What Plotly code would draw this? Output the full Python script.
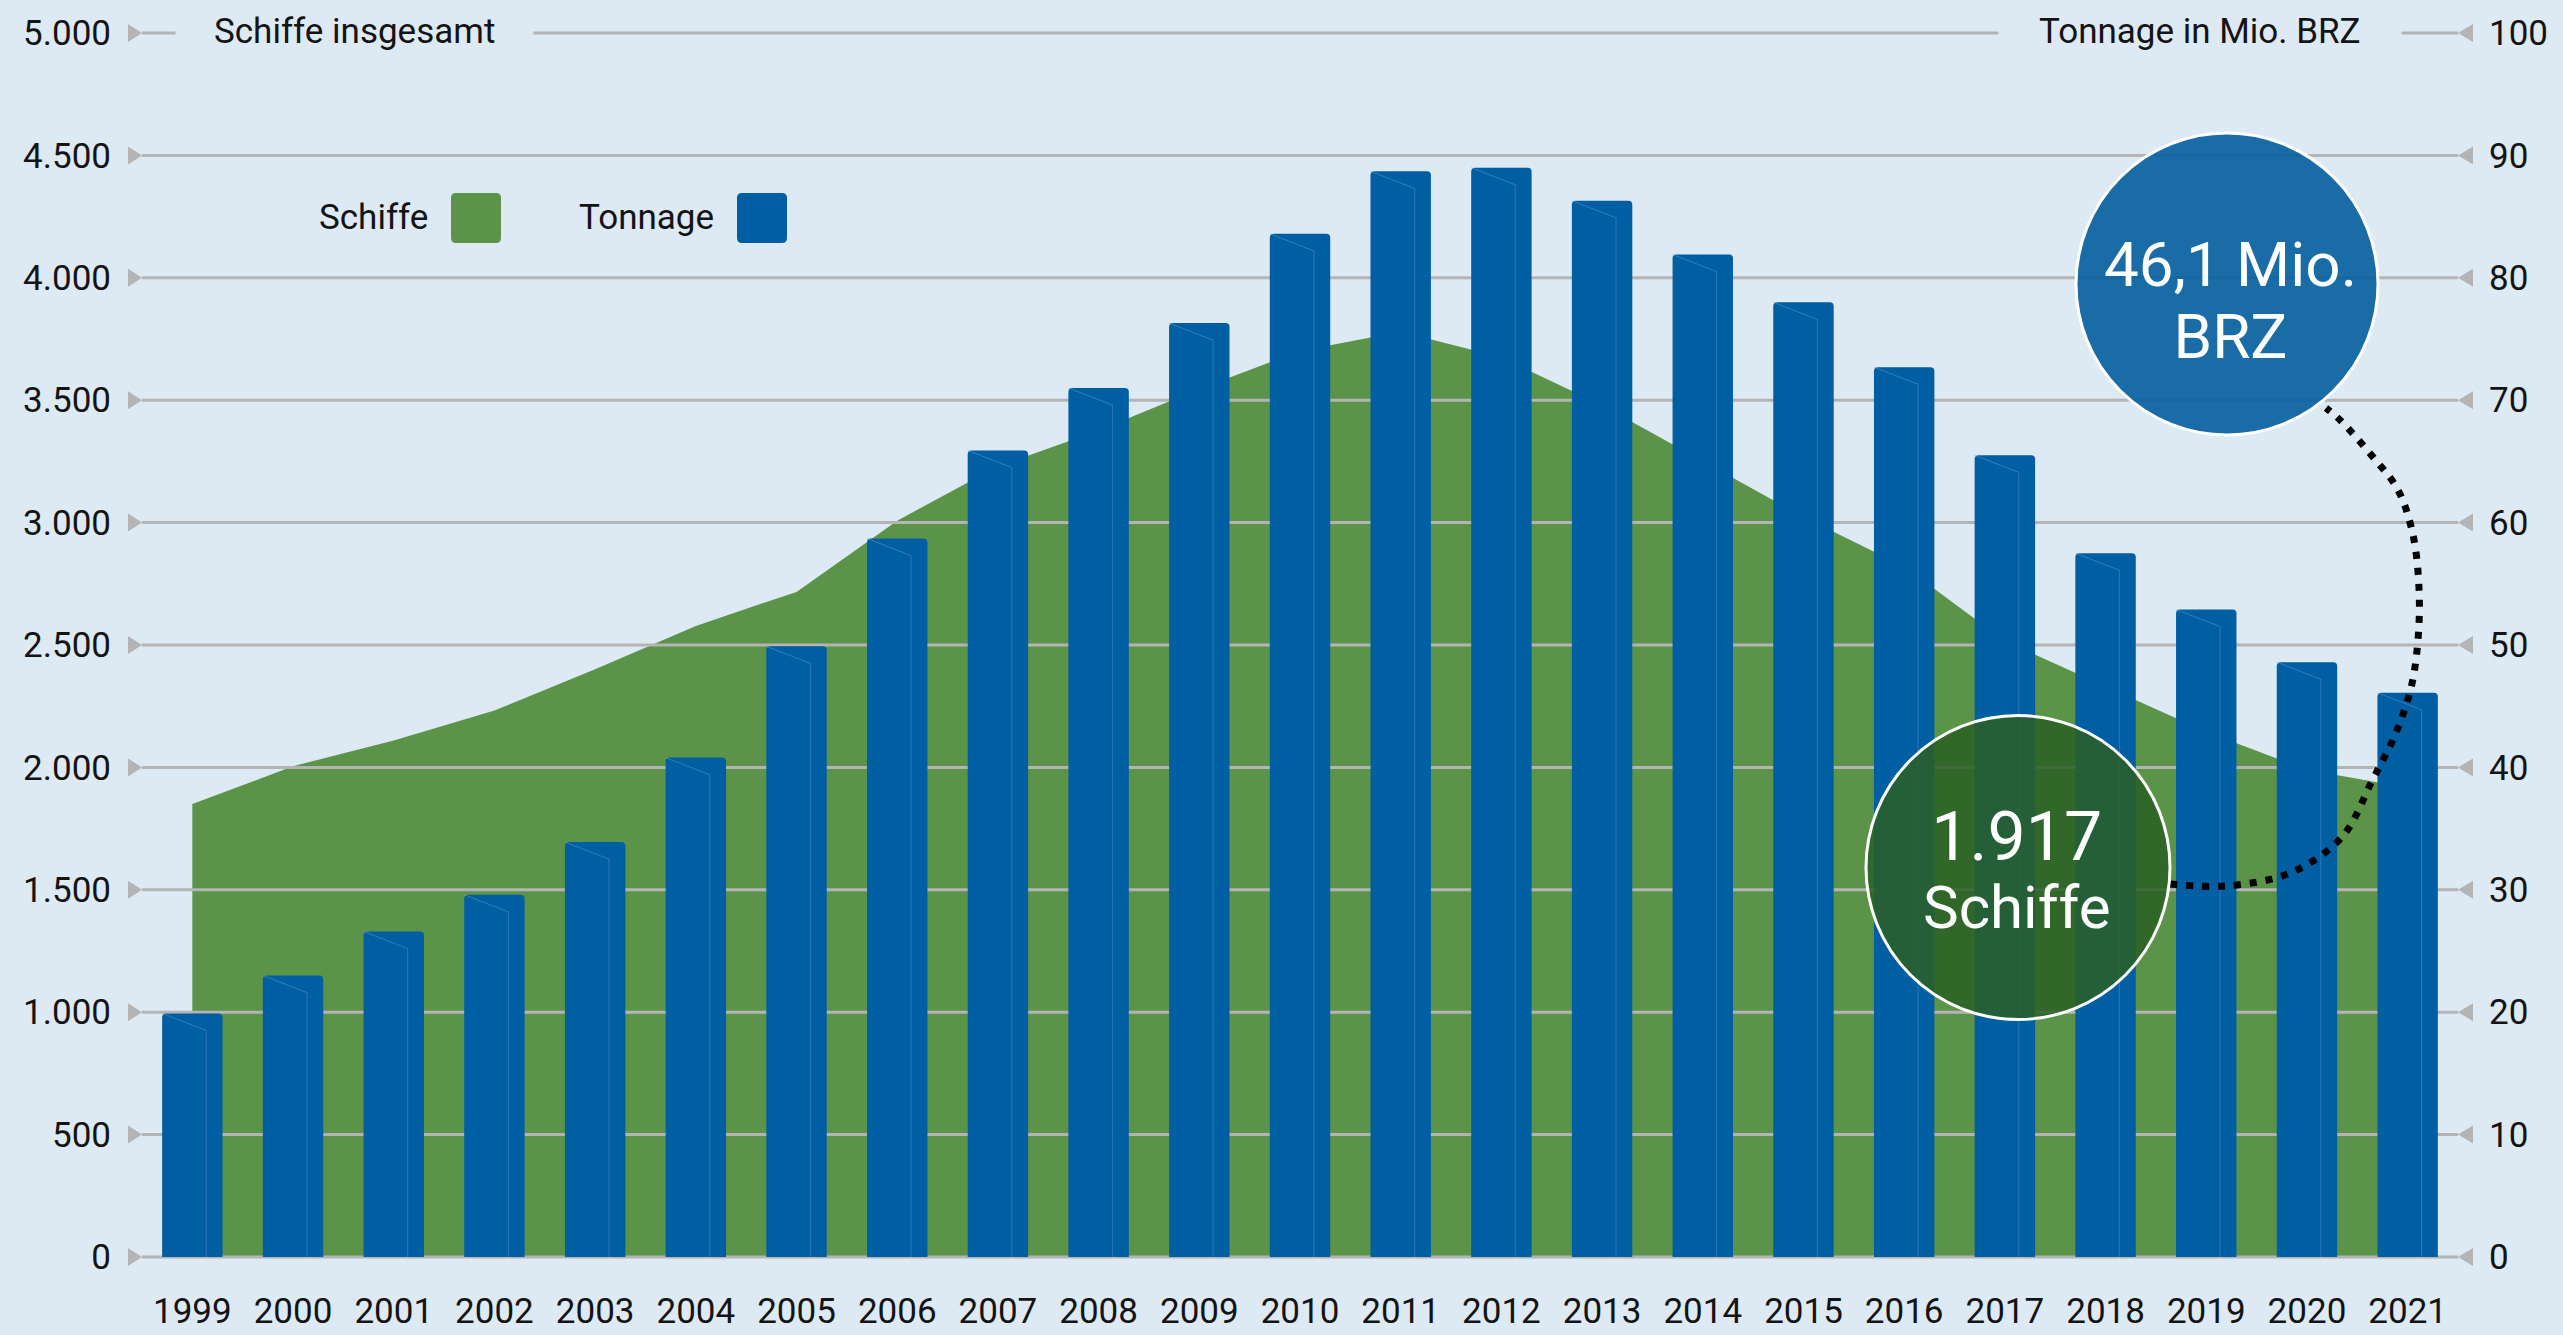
import plotly.graph_objects as go

# ---------------- data ----------------
years = [1999, 2000, 2001, 2002, 2003, 2004, 2005, 2006, 2007, 2008, 2009, 2010,
         2011, 2012, 2013, 2014, 2015, 2016, 2017, 2018, 2019, 2020, 2021]
year_labels = [str(y) for y in years]
ships = [1850, 2005, 2110, 2232, 2401, 2578, 2717, 3008, 3230, 3376, 3546, 3701,
         3780, 3675, 3479, 3250, 3023, 2821, 2516, 2330, 2146, 1990, 1917]
tonnage = [19.9, 23.0, 26.6, 29.6, 33.9, 40.8, 49.9, 58.7, 65.9, 71.0, 76.3, 83.6,
           88.7, 89.0, 86.3, 81.9, 78.0, 72.7, 65.5, 57.5, 52.9, 48.6, 46.1]
ship_ticks = [0, 500, 1000, 1500, 2000, 2500, 3000, 3500, 4000, 4500, 5000]
ship_tick_labels = ["0", "500", "1.000", "1.500", "2.000", "2.500", "3.000",
                    "3.500", "4.000", "4.500", "5.000"]
ton_ticks = [0, 10, 20, 30, 40, 50, 60, 70, 80, 90, 100]
ton_tick_labels = [str(v) for v in ton_ticks]

title_left = "Schiffe insgesamt"
title_right = "Tonnage in Mio. BRZ"
legend_names = ["Schiffe", "Tonnage"]
bubble_ton = ["46,1 Mio.", "BRZ"]
bubble_ships = ["1.917", "Schiffe"]

# ---------------- styling / geometry ----------------
W, H = 2563, 1335
M_L, M_R, M_T, M_B = 142, 105, 31, 76
X_RANGE = [1998.5, 2021.5]
PAD_PX = 2  # extra pixels above/below 0 and max so edge gridlines are not clipped
BG = "#dde9f3"
GREEN = "#5b9449"
BLUE = "#005ea3"
GRID = "#b4b4b4"
TXT = "#141414"
FONT = "Roboto"
FS = 35

plot_w = W - M_L - M_R
plot_h = H - M_T - M_B
px_per_year = plot_w / (X_RANGE[1] - X_RANGE[0])
inner_h = plot_h - 2 * PAD_PX
k1 = 5000 / inner_h * PAD_PX
k2 = 100 / inner_h * PAD_PX
Y1_RANGE = [-k1, 5000 + k1]
Y2_RANGE = [-k2, 100 + k2]


def pxx(x):
    return (x - M_L) / plot_w


def pxy(y):
    return (H - M_B - y) / plot_h


fig = go.Figure()

# green area (ships)
fig.add_trace(go.Scatter(x=years, y=ships, mode="lines", line=dict(width=0, color=GREEN),
                         fill="tozeroy", fillcolor=GREEN, xaxis="x", yaxis="y",
                         hoverinfo="skip"))

# horizontal gridlines drawn above the area, below the bars
gx, gy = [], []
for t in ship_ticks:
    gx += [X_RANGE[0], X_RANGE[1], None]
    gy += [t, t, None]
fig.add_trace(go.Scatter(x=gx, y=gy, mode="lines", line=dict(color=GRID, width=3),
                         xaxis="x", yaxis="y", hoverinfo="skip"))

# tonnage bars
fig.add_trace(go.Bar(x=years, y=tonnage, width=0.6,
                     marker=dict(color=BLUE, line=dict(width=0), cornerradius=4),
                     xaxis="x", yaxis="y2", hoverinfo="skip"))
# subtle fold line on each bar
fold = 0.132
fig.add_trace(go.Bar(x=years, y=[v - 1.4 for v in tonnage], width=0.012, offset=fold,
                     marker=dict(color="rgba(95,150,205,0.4)", line=dict(width=0)),
                     xaxis="x", yaxis="y2", hoverinfo="skip"))
dx, dy = [], []
for yr, v in zip(years, tonnage):
    dx += [yr - 0.3, yr + fold + 0.006, None]
    dy += [v, v - 1.4, None]
fig.add_trace(go.Scatter(x=dx, y=dy, mode="lines",
                         line=dict(color="rgba(110,165,215,0.45)", width=1),
                         xaxis="x", yaxis="y2", hoverinfo="skip"))

# dotted connector (pixel-space overlay axes)
curve_x = [2170, 2225, 2290, 2342, 2372, 2395, 2411, 2418, 2419, 2413, 2398, 2373, 2340, 2326]
curve_y = [884, 886, 873, 837, 781, 735, 688, 640, 588, 535, 490, 457, 420, 408]
fig.add_trace(go.Scatter(x=curve_x, y=curve_y, mode="lines",
                         line=dict(color="black", width=7, dash="7px,9px",
                                   shape="spline", smoothing=1.0),
                         xaxis="x3", yaxis="y3", hoverinfo="skip"))

shapes = []
# tick triangles at both axis ends of each gridline
for t in ship_ticks:
    yp = (t - Y1_RANGE[0]) / (Y1_RANGE[1] - Y1_RANGE[0])
    shapes.append(dict(type="path", xref="paper", yref="paper", xsizemode="pixel",
                       ysizemode="pixel", xanchor=0, yanchor=yp,
                       path="M -14,9 L 0,0 L -14,-9 Z", fillcolor=GRID,
                       line=dict(width=0), layer="above"))
for t in ton_ticks:
    yp = (t - Y2_RANGE[0]) / (Y2_RANGE[1] - Y2_RANGE[0])
    shapes.append(dict(type="path", xref="paper", yref="paper", xsizemode="pixel",
                       ysizemode="pixel", xanchor=1, yanchor=yp,
                       path="M 15,9 L 0,0 L 15,-9 Z", fillcolor=GRID,
                       line=dict(width=0), layer="above"))

# bubbles
for (cx, cy, r, col) in [(2227, 284, 151, "rgba(4,94,158,0.9)"),
                         (2018, 867.5, 152, "rgba(43,95,37,0.85)")]:
    shapes.append(dict(type="circle", xref="paper", yref="paper",
                       x0=pxx(cx - r), x1=pxx(cx + r), y0=pxy(cy + r), y1=pxy(cy - r),
                       fillcolor=col, line=dict(color="white", width=3), layer="above"))


def rrect(x0, y0, x1, y1, r):
    return (f"M {pxx(x0 + r)} {pxy(y0)} L {pxx(x1 - r)} {pxy(y0)} "
            f"Q {pxx(x1)} {pxy(y0)} {pxx(x1)} {pxy(y0 + r)} L {pxx(x1)} {pxy(y1 - r)} "
            f"Q {pxx(x1)} {pxy(y1)} {pxx(x1 - r)} {pxy(y1)} L {pxx(x0 + r)} {pxy(y1)} "
            f"Q {pxx(x0)} {pxy(y1)} {pxx(x0)} {pxy(y1 - r)} L {pxx(x0)} {pxy(y0 + r)} "
            f"Q {pxx(x0)} {pxy(y0)} {pxx(x0 + r)} {pxy(y0)} Z")


shapes.append(dict(type="path", xref="paper", yref="paper", path=rrect(451, 193, 501, 243, 5),
                   fillcolor=GREEN, line=dict(width=0), layer="above"))
shapes.append(dict(type="path", xref="paper", yref="paper", path=rrect(737, 193, 787, 243, 5),
                   fillcolor=BLUE, line=dict(width=0), layer="above"))

annotations = []
# axis titles interrupting the top gridline
annotations.append(dict(text=title_left, xref="paper", yref="paper", x=pxx(354), y=pxy(31),
                        xanchor="center", yanchor="middle", showarrow=False,
                        font=dict(family=FONT, size=FS, color=TXT), bgcolor=BG, borderpad=38))
annotations.append(dict(text=title_right, xref="paper", yref="paper", x=pxx(2200), y=pxy(31),
                        xanchor="center", yanchor="middle", showarrow=False,
                        font=dict(family=FONT, size=FS, color=TXT), bgcolor=BG, borderpad=40))
# legend text
annotations.append(dict(text=legend_names[0], xref="paper", yref="paper", x=pxx(430), y=pxy(218),
                        xanchor="right", yanchor="middle", showarrow=False,
                        font=dict(family=FONT, size=FS, color=TXT)))
annotations.append(dict(text=legend_names[1], xref="paper", yref="paper", x=pxx(716), y=pxy(218),
                        xanchor="right", yanchor="middle", showarrow=False,
                        font=dict(family=FONT, size=FS, color=TXT)))
# bubble texts (one annotation per bubble, line spacing from base font size)
annotations.append(dict(
    text=(f"<span style='font-size:62px'>{bubble_ton[0]}</span><br>"
          f"<span style='font-size:62px'>{bubble_ton[1]}</span>"),
    xref="paper", yref="paper", x=pxx(2230), y=pxy(300), xanchor="center", yanchor="middle",
    showarrow=False, font=dict(family=FONT, size=55, color="white")))
annotations.append(dict(
    text=(f"<span style='font-size:68px'>{bubble_ships[0]}</span><br>"
          f"<span style='font-size:60px'>{bubble_ships[1]}</span>"),
    xref="paper", yref="paper", x=pxx(2017), y=pxy(870), xanchor="center", yanchor="middle",
    showarrow=False, font=dict(family=FONT, size=52, color="white")))

axis_common = dict(showgrid=False, zeroline=False, showline=False, ticks="", automargin=False,
                   tickfont=dict(family=FONT, size=FS, color=TXT))

fig.update_layout(
    width=W, height=H, autosize=False,
    margin=dict(l=M_L, r=M_R, t=M_T, b=M_B, pad=0, autoexpand=False),
    paper_bgcolor=BG, plot_bgcolor=BG,
    showlegend=False, hovermode=False, barmode="overlay",
    font=dict(family=FONT, size=FS, color=TXT),
    xaxis=dict(range=X_RANGE, tickmode="array", tickvals=years, ticktext=year_labels,
               ticklabelstandoff=28, **axis_common),
    yaxis=dict(range=Y1_RANGE, tickmode="array", tickvals=ship_ticks, ticktext=ship_tick_labels,
               ticklabelstandoff=30, **axis_common),
    yaxis2=dict(range=Y2_RANGE, overlaying="y", side="right", anchor="x",
                tickmode="array", tickvals=ton_ticks, ticktext=ton_tick_labels,
                ticklabelstandoff=30, **axis_common),
    xaxis3=dict(range=[M_L, W - M_R], overlaying="x", anchor="y3", visible=False,
                automargin=False),
    yaxis3=dict(range=[H - M_B, M_T], overlaying="y", anchor="x3", visible=False,
                automargin=False),
    shapes=shapes, annotations=annotations,
)

fig.write_html("out.html", config={"displayModeBar": False},
               post_script="document.body.style.margin='0';document.body.style.overflow='hidden';")
